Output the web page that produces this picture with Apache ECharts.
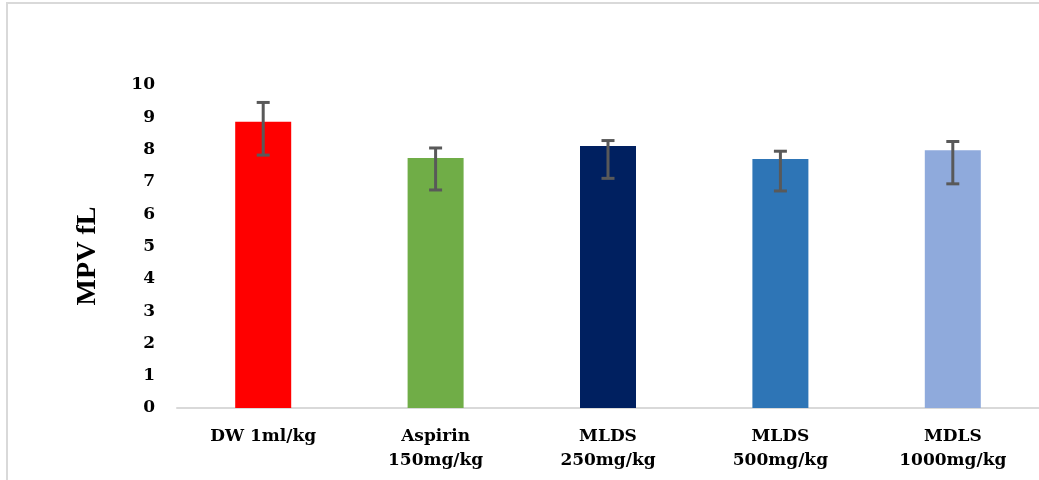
<!DOCTYPE html>
<html>
<head>
<meta charset="utf-8">
<script src="https://cdn.jsdelivr.net/npm/echarts@6/dist/echarts.min.js"></script>
<style>
html, body { margin: 0; padding: 0; background: #fff; }
#echarts { width: 1039px; height: 480px; }
</style>
</head>
<body>
<div id="echarts"></div>
<script>
// groups and MPV values
var categories = ['DW 1ml/kg', 'Aspirin\n150mg/kg', 'MLDS\n250mg/kg', 'MLDS\n500mg/kg', 'MDLS\n1000mg/kg'];
var mpv = [8.86, 7.74, 8.11, 7.71, 7.98];
var errHigh = [9.46, 8.05, 8.28, 7.95, 8.25];
var errLow = [7.83, 6.75, 7.11, 6.72, 6.94];
var barColors = ['#ff0000', '#70ad47', '#002060', '#2e75b6', '#8faadc'];
var yTicks = [0, 1, 2, 3, 4, 5, 6, 7, 8, 9, 10];

var myChart = echarts.init(document.getElementById('echarts'));

var errData = categories.map(function (c, i) {
  return [i, errLow[i], errHigh[i]];
});

var option = {
  backgroundColor: '#fff',
  animation: false,
  graphic: [{
    type: 'rect',
    shape: { x: 7, y: 3, width: 1100, height: 600 },
    style: { fill: 'none', stroke: '#d9d9d9', lineWidth: 2 },
    silent: true
  }, {
    type: 'text',
    x: 88, y: 256,
    rotation: Math.PI / 2,
    style: {
      text: 'MPV fL',
      font: 'bold 28px "Liberation Serif", serif',
      fill: '#000',
      align: 'center',
      verticalAlign: 'middle'
    }
  }],
  grid: { left: 177, top: 85, width: 872, height: 323 },
  xAxis: {
    type: 'category',
    data: categories,
    axisLine: { lineStyle: { color: '#d9d9d9', width: 2 } },
    axisTick: { show: false },
    axisLabel: {
      interval: 0,
      margin: 17,
      color: '#000',
      fontFamily: '"DejaVu Serif", serif',
      fontWeight: 'bold',
      fontSize: 17,
      lineHeight: 24
    }
  },
  yAxis: {
    type: 'value',
    min: yTicks[0],
    max: yTicks[yTicks.length - 1],
    interval: 1,
    splitLine: { show: false },
    axisLine: { show: false },
    axisTick: { show: false },
    axisLabel: {
      margin: 22,
      color: '#000',
      fontFamily: '"DejaVu Serif", serif',
      fontWeight: 'bold',
      fontSize: 17
    }
  },
  series: [{
    type: 'bar',
    barWidth: 56,
    data: mpv.map(function (v, i) {
      return { value: v, itemStyle: { color: barColors[i] } };
    })
  }, {
    type: 'custom',
    data: errData,
    z: 10,
    renderItem: function (params, api) {
      var x = api.value(0);
      var lo = api.coord([x, api.value(1)]);
      var hi = api.coord([x, api.value(2)]);
      var cap = 6.5;
      var style = { stroke: '#595959', lineWidth: 3 };
      return {
        type: 'group',
        children: [
          { type: 'line', shape: { x1: hi[0], y1: hi[1], x2: lo[0], y2: lo[1] }, style: style },
          { type: 'line', shape: { x1: hi[0] - cap, y1: hi[1], x2: hi[0] + cap, y2: hi[1] }, style: style },
          { type: 'line', shape: { x1: lo[0] - cap, y1: lo[1], x2: lo[0] + cap, y2: lo[1] }, style: style }
        ]
      };
    }
  }]
};

myChart.setOption(option);
</script>
</body>
</html>
